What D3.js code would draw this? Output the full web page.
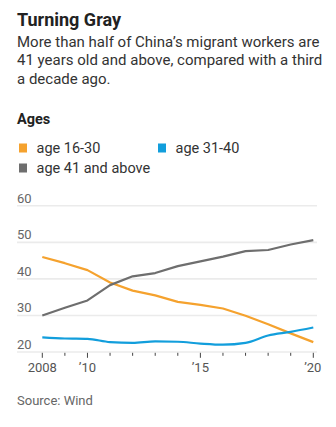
<!DOCTYPE html>
<html><head><meta charset="utf-8">
<script src="https://cdn.jsdelivr.net/npm/d3@7"></script>
<style>
html,body{margin:0;padding:0;background:#fff;}
svg{display:block;font-family:Roboto, "Noto Sans", sans-serif;}
</style></head>
<body>
<svg id="chart" width="336" height="427"></svg>
<script>
const years = [2008,2009,2010,2011,2012,2013,2014,2015,2016,2017,2018,2019,2020];
const age16_30 = [46.0,44.3,42.4,39.0,36.8,35.5,33.7,32.9,31.9,29.9,27.6,25.1,22.7];
const age31_40 = [24.0,23.7,23.6,22.7,22.5,22.9,22.8,22.3,22.0,22.5,24.5,25.5,26.7];
const age41up = [30.0,32.1,34.1,38.3,40.7,41.6,43.5,44.8,46.1,47.6,47.9,49.4,50.6];
const seriesNames = ["age 16-30","age 31-40","age 41 and above"];
const seriesColors = ["#F5A22E","#129EDC","#6E6E6E"];
const yTicks = [20,30,40,50,60];
const xTickLabels = {2008:"2008",2010:"\u201910",2015:"\u201915",2020:"\u201920"};

const svg = d3.select("#chart");

svg.append("text").attr("x",17).attr("y",26).attr("font-size",18).attr("font-weight",700)
  .attr("fill","#222").text("Turning Gray");
const sub = ["More than half of China\u2019s migrant workers are","41 years old and above, compared with a third","a decade ago."];
sub.forEach((s,i)=>svg.append("text").attr("x",17).attr("y",47+i*18.3).attr("font-size",15)
  .attr("fill","#333").text(s));

svg.append("text").attr("x",17).attr("y",123.5).attr("font-size",14.5).attr("font-weight",700)
  .attr("fill","#222").text("Ages");

const legPos = [[19,153],[158,153],[19,173]];
seriesNames.forEach((n,i)=>{
  const [lx,ly]=legPos[i];
  svg.append("rect").attr("x",lx).attr("y",ly-9.5).attr("width",8).attr("height",9).attr("fill",seriesColors[i]);
  svg.append("text").attr("x",lx+17.5).attr("y",ly).attr("font-size",14.5).attr("fill","#333").text(n);
});

const x = d3.scaleLinear().domain([2008,2020]).range([42.3,313.3]);
const y = d3.scaleLinear().domain([20,60]).range([352,205.8]);

svg.append("g").selectAll("line").data(yTicks).join("line")
  .attr("x1",17).attr("x2",317).attr("y1",d=>y(d)).attr("y2",d=>y(d))
  .attr("stroke","#ebebeb").attr("stroke-width",1.6);
svg.append("g").selectAll("text").data(yTicks).join("text")
  .attr("x",17).attr("y",d=>y(d)-3).attr("font-size",13).attr("fill","#666").text(d=>d);

const xAxis = svg.append("g").attr("transform",`translate(0,${y(20)+0.8})`);
xAxis.selectAll("line").data(years).join("line")
  .attr("x1",d=>x(d)).attr("x2",d=>x(d)).attr("y1",0)
  .attr("y2",d=>xTickLabels[d]?5:3).attr("stroke","#444").attr("stroke-width",1);
xAxis.selectAll("text").data(years.filter(d=>xTickLabels[d])).join("text")
  .attr("x",d=>x(d)+(d===2020?-0.5:0)).attr("y",19.5).attr("text-anchor","middle")
  .attr("font-size",13).attr("fill","#555").text(d=>xTickLabels[d]);

const allSeries = [age16_30, age31_40, age41up];
const curves = [d3.curveLinear, d3.curveMonotoneX, d3.curveLinear];
allSeries.forEach((s,i)=>{
  const line = d3.line().x((d,j)=>x(years[j])).y(d=>y(d)).curve(curves[i]);
  svg.append("path").datum(s).attr("d",line).attr("fill","none")
    .attr("stroke",seriesColors[i]).attr("stroke-width",2.2).attr("stroke-linejoin","round");
});

svg.append("text").attr("x",17).attr("y",405).attr("font-size",13).attr("fill","#666").text("Source: Wind");
</script>
</body></html>
